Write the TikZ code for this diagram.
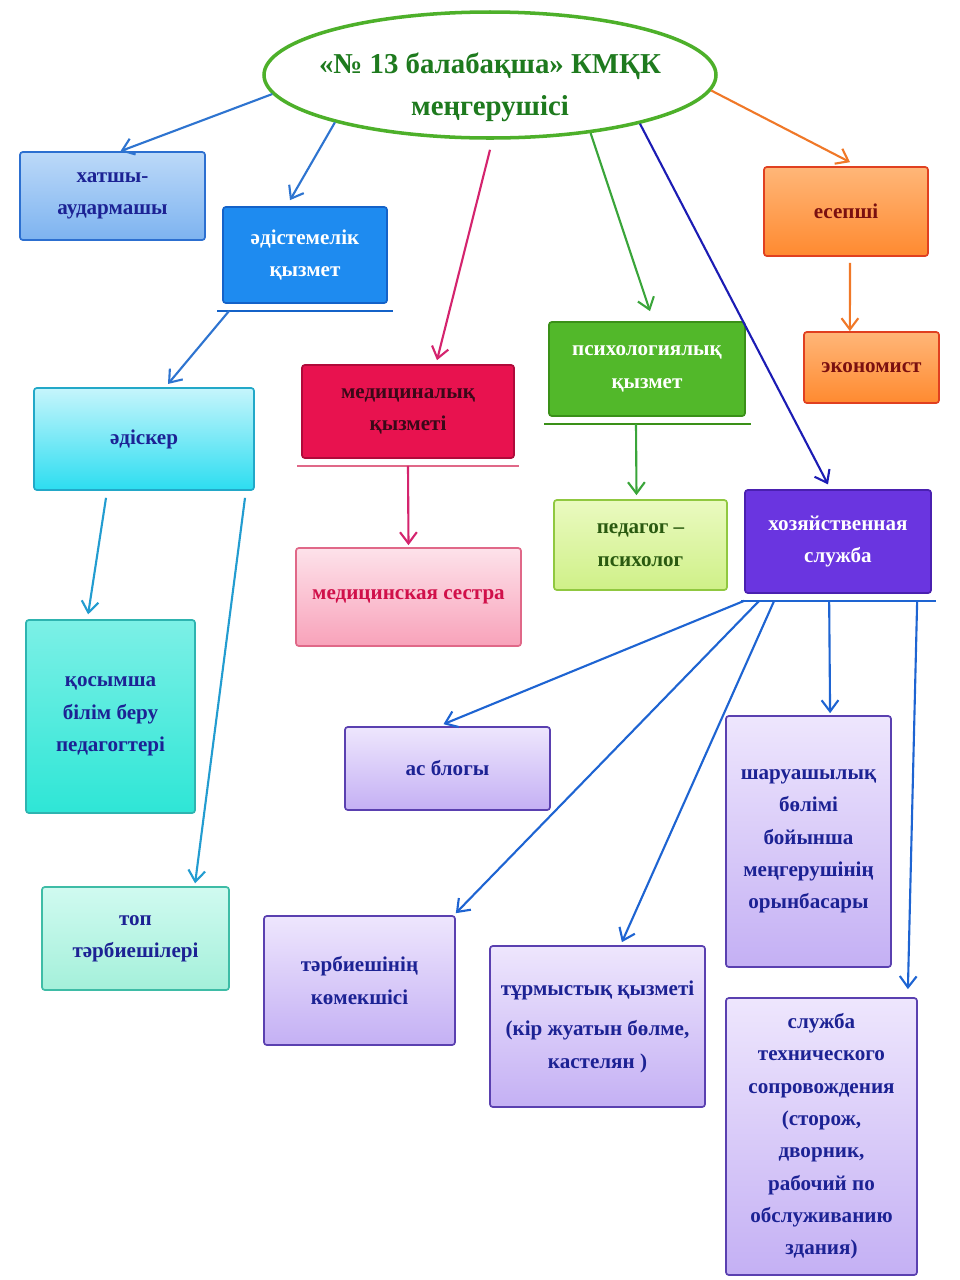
\documentclass[tikz,border=0pt]{standalone}
\usepackage{fontspec}
\setmainfont{Liberation Serif}
\usetikzlibrary{arrows.meta, shapes.geometric}
\definecolor{tgreen}{HTML}{4DB02A}
\definecolor{tdgreen}{HTML}{1E7A1E}
\definecolor{navy}{HTML}{1C2294}
\definecolor{hatdk}{HTML}{2C6FD0}
\definecolor{hattop}{HTML}{BCD9F8}
\definecolor{hatbot}{HTML}{7DB3F0}
\definecolor{adistdk}{HTML}{1462C8}
\definecolor{adistfl}{HTML}{1E8BF0}
\definecolor{cyandk}{HTML}{22A8C8}
\definecolor{cyantop}{HTML}{C6F5FC}
\definecolor{cyanbot}{HTML}{2CDDF0}
\definecolor{aquadk}{HTML}{2EB4B0}
\definecolor{aquatop}{HTML}{7CF0E6}
\definecolor{aquabot}{HTML}{2EE6D6}
\definecolor{mintdk}{HTML}{3EBCA6}
\definecolor{minttop}{HTML}{D0FAF0}
\definecolor{mintbot}{HTML}{A4F0DA}
\definecolor{crimdk}{HTML}{B00A3A}
\definecolor{crimfl}{HTML}{E8124F}
\definecolor{crimtx}{HTML}{3A0818}
\definecolor{pinkdk}{HTML}{E06888}
\definecolor{pinktop}{HTML}{FDE2EA}
\definecolor{pinkbot}{HTML}{F8A2BA}
\definecolor{pinktx}{HTML}{D0104A}
\definecolor{grndk}{HTML}{3A9018}
\definecolor{grnfl}{HTML}{52B82A}
\definecolor{limedk}{HTML}{90C840}
\definecolor{limetop}{HTML}{EAFAC0}
\definecolor{limebot}{HTML}{CFF088}
\definecolor{limetx}{HTML}{2A5A10}
\definecolor{orngdk}{HTML}{E04020}
\definecolor{orngtop}{HTML}{FFB678}
\definecolor{orngbot}{HTML}{FF8A30}
\definecolor{orngtx}{HTML}{7A1010}
\definecolor{purpdk}{HTML}{4A20B0}
\definecolor{purpfl}{HTML}{6A35E0}
\definecolor{lavdk}{HTML}{5A40B0}
\definecolor{lavtop}{HTML}{EEE6FD}
\definecolor{lavbot}{HTML}{C4B0F4}
\definecolor{bossblue}{HTML}{2E74D0}
\definecolor{medline}{HTML}{D4246E}
\definecolor{psyline}{HTML}{3AA53A}
\definecolor{hozline}{HTML}{1C1CB4}
\definecolor{esepline}{HTML}{F07828}
\definecolor{tealline}{HTML}{229CD0}
\definecolor{subline}{HTML}{1E64D2}

\begin{document}
\begin{tikzpicture}[
  >={Straight Barb[length=2.8mm, width=4.2mm]},
  box/.style n args={4}{draw=#1, top color=#2, bottom color=#3, text=#4,
    rectangle, rounded corners=2pt, line width=1.2pt, align=center,
    font=\fontsize{15}{23}\selectfont\bfseries, inner sep=4pt},
  flatbox/.style 2 args={box={#1}{#2}{#2}{white}},
  lavbox/.style={box={lavdk}{lavtop}{lavbot}{navy}},
  link/.style={->, line width=1.5pt, draw=#1},
  bar/.style={line width=1.6pt, draw=#1},
]

% canvas
\fill[white] (0,0) rectangle (24,-32);
\useasboundingbox (0,0) rectangle (24,-32);

% === Head (ellipse) ===
\node[ellipse, draw=tgreen, line width=2.5pt, fill=white,
  minimum width=11.3cm, minimum height=3.15cm] (boss) at (12.25,-1.875) {};
\node[text=tdgreen, font=\fontsize{20.5}{30}\selectfont\bfseries, align=center]
  (bosstext) at ([yshift=-0.3cm]boss.center) {«№ 13 балабақша» КМҚК\\меңгерушісі};

% === Left branch (blue / cyan) ===
\node[box={hatdk}{hattop}{hatbot}{navy}, minimum width=4.625cm, minimum height=2.2cm]
  (hat) at (2.8125,-4.9) {хатшы-\\аудармашы};
\node[flatbox={adistdk}{adistfl}, minimum width=4.1cm, minimum height=2.4cm]
  (adist) at (7.625,-6.375) {әдістемелік\\қызмет};
\node[box={cyandk}{cyantop}{cyanbot}{navy}, minimum width=5.5cm, minimum height=2.55cm]
  (adisker) at (3.6,-10.975) {әдіскер};
\node[box={aquadk}{aquatop}{aquabot}{navy}, minimum width=4.225cm, minimum height=4.825cm]
  (qos) at (2.7625,-17.9125) {қосымша\\білім беру\\педагогтері};
\node[box={mintdk}{minttop}{mintbot}{navy}, minimum width=4.675cm, minimum height=2.575cm]
  (topt) at (3.3875,-23.4625) {топ\\тәрбиешілері};

% === Medical ===
\node[box={crimdk}{crimfl}{crimfl}{crimtx}, minimum width=5.3cm, minimum height=2.325cm]
  (medq) at (10.2,-10.2875) {медициналық\\қызметі};
\node[box={pinkdk}{pinktop}{pinkbot}{pinktx}, minimum width=5.625cm, minimum height=2.45cm]
  (medses) at (10.2125,-14.925) {медицинская сестра};

% === Psychology ===
\node[flatbox={grndk}{grnfl}, minimum width=4.9cm, minimum height=2.35cm]
  (psyq) at (16.175,-9.225) {психологиялық\\қызмет};
\node[box={limedk}{limetop}{limebot}{limetx}, minimum width=4.325cm, minimum height=2.25cm]
  (pedpsy) at (16.0125,-13.625) {педагог –\\психолог};

% === Accounting ===
\node[box={orngdk}{orngtop}{orngbot}{orngtx}, minimum width=4.1cm, minimum height=2.225cm]
  (esep) at (21.15,-5.2875) {есепші};
\node[box={orngdk}{orngtop}{orngbot}{orngtx}, minimum width=3.375cm, minimum height=1.775cm]
  (econ) at (21.7875,-9.1875) {экономист};

% === Household service ===
\node[flatbox={purpdk}{purpfl}, minimum width=4.65cm, minimum height=2.575cm]
  (hoz) at (20.95,-13.5375) {хозяйственная\\служба};
\node[lavbox, minimum width=5.125cm, minimum height=2.075cm]
  (asblog) at (11.1875,-19.2125) {ас блогы};
\node[lavbox, minimum width=4.125cm, minimum height=6.275cm]
  (sharua) at (20.2125,-21.0375) {шаруашылық\\бөлімі\\бойынша\\меңгерушінің\\орынбасары};
\node[lavbox, minimum width=4.775cm, minimum height=3.225cm]
  (tarbkom) at (8.9875,-24.5125) {тәрбиешінің\\көмекшісі};
\node[lavbox, minimum width=5.375cm, minimum height=4.025cm]
  (turmys) at (14.9375,-25.6625) {тұрмыстық қызметі\\[6pt](кір жуатын бөлме,\\кастелян )};
\node[lavbox, minimum width=4.775cm, minimum height=6.925cm]
  (sluzhba) at (20.5375,-28.4125)
  {служба\\технического\\сопровождения\\(сторож,\\дворник,\\рабочий по\\обслуживанию\\здания)};

% underline bars
\draw[bar=adistdk] ([shift={(-0.125,-0.175)}]adist.south west) -- ([shift={(0.125,-0.175)}]adist.south east);
\draw[bar=pinkdk] ([shift={(-0.1,-0.175)}]medq.south west) -- ([shift={(0.1,-0.175)}]medq.south east);
\draw[bar=grndk] ([shift={(-0.1,-0.175)}]psyq.south west) -- ([shift={(0.125,-0.175)}]psyq.south east);
\draw[bar=subline] ([shift={(-0.075,-0.175)}]hoz.south west) -- ([shift={(0.1,-0.175)}]hoz.south east);

\coordinate (adistb) at ([shift={(0.175,-0.175)}]adist.south west);
\coordinate (medqb) at ([yshift=-0.175cm]medq.south);
\coordinate (psyqb) at ([shift={(-0.275,-0.175)}]psyq.south);
\coordinate (hozb1) at ([shift={(0,-0.175)}]hoz.south west);
\coordinate (hozb2) at ([shift={(0.375,-0.175)}]hoz.south west);
\coordinate (hozb3) at ([shift={(0.75,-0.175)}]hoz.south west);
\coordinate (hozb4) at ([shift={(2.125,-0.175)}]hoz.south west);
\coordinate (hozb5) at ([shift={(4.325,-0.175)}]hoz.south west);

% arrows from the head
\draw[link=bossblue] (boss.185) -- ([xshift=0.2cm]hat.north);
\draw[link=bossblue] (boss.197) -- ([xshift=-0.375cm,yshift=0.15cm]adist.north);
\draw[link=medline] ([yshift=-0.25cm]boss.south) -- ([xshift=0.725cm,yshift=0.1cm]medq.north);
\draw[link=psyline] (boss.330) -- ([xshift=0.075cm,yshift=0.25cm]psyq.north);
\draw[link=hozline] (boss.342) -- ([xshift=-0.25cm,yshift=0.12cm]hoz.north);
\draw[link=esepline] (boss.356) -- ([xshift=0.1cm,yshift=0.1cm]esep.north);

% second level
\draw[link=esepline] ([xshift=0.1cm,yshift=-0.15cm]esep.south) -- ([xshift=-0.54cm]econ.north);
\draw[link=bossblue] (adistb) -- ([xshift=0.6cm,yshift=0.08cm]adisker.north);
\draw[link=tealline] ([shift={(-0.95,-0.175)}]adisker.south) -- ([xshift=-0.56cm,yshift=0.12cm]qos.north);
\draw[link=tealline] ([shift={(2.525,-0.175)}]adisker.south) -- ([xshift=1.49cm,yshift=0.07cm]topt.north);
\draw[link=medline] (medqb) -- ([yshift=0.05cm]medses.north);
\draw[link=psyline] (psyqb) -- ([xshift=-0.1cm,yshift=0.1cm]pedpsy.north);

% household sub-units
\draw[link=subline] (hozb1) -- ([xshift=-0.1cm,yshift=0.05cm]asblog.north);
\draw[link=subline] (hozb2) -- ([yshift=0.05cm]tarbkom.north east);
\draw[link=subline] (hozb3) -- ([xshift=0.61cm,yshift=0.075cm]turmys.north);
\draw[link=subline] (hozb4) -- ([xshift=0.54cm,yshift=0.05cm]sharua.north);
\draw[link=subline] (hozb5) -- ([xshift=2.16cm,yshift=0.2cm]sluzhba.north);

\end{tikzpicture}
\end{document}
